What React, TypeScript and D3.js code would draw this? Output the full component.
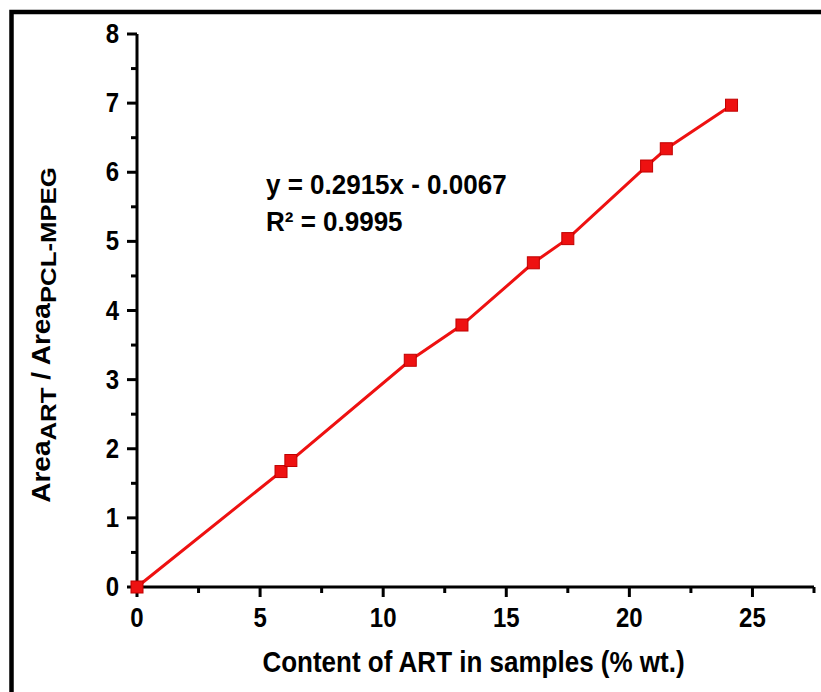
import React from "react";
import * as d3 from "d3";

const contentART: number[] = [0, 5.85, 6.25, 11.1, 13.2, 16.1, 17.5, 20.7, 21.5, 24.15];
const areaRatio: number[] = [0, 1.67, 1.83, 3.28, 3.79, 4.69, 5.04, 6.09, 6.34, 6.97];
const xMajorTicks: number[] = [0, 5, 10, 15, 20, 25];
const xMinorTicks: number[] = [2.5, 7.5, 12.5, 17.5, 22.5, 27.5];
const yMajorTicks: number[] = [0, 1, 2, 3, 4, 5, 6, 7, 8];
const yMinorTicks: number[] = [0.5, 1.5, 2.5, 3.5, 4.5, 5.5, 6.5, 7.5];
const equationLines: string[] = ["y = 0.2915x - 0.0067", "R² = 0.9995"];
const xTitle = "Content of ART in samples (% wt.)";

const W = 821;
const H = 692;
const FONT = "'Liberation Sans', Arial, sans-serif";
const RED = "#ee1111";
const VS = 1.12; // vertical stretch of glyphs

export default function App() {
  const x = d3.scaleLinear().domain([0, 27.5]).range([137, 814]);
  const y = d3.scaleLinear().domain([0, 8]).range([587, 34]);
  const pts = contentART.map((c, i) => [c, areaRatio[i]] as [number, number]);
  const line = d3
    .line<[number, number]>()
    .x((d) => x(d[0]))
    .y((d) => y(d[1]));

  return (
    <svg
      width={W}
      height={H}
      style={{ position: "absolute", left: 0, top: 0, background: "#fff" }}
      fontFamily={FONT}
    >
      <rect x={0} y={0} width={W} height={H} fill="#fff" />
      {/* frame */}
      <rect x={11.5} y={12} width={W + 20} height={H + 20} fill="none" stroke="#000" strokeWidth={4.5} />

      {/* axes */}
      <line x1={x(0)} x2={x(27.5)} y1={y(0)} y2={y(0)} stroke="#000" strokeWidth={3} />
      <line x1={x(0)} x2={x(0)} y1={y(0) + 1.5} y2={y(8)} stroke="#000" strokeWidth={3} />

      {xMajorTicks.map((t) => (
        <g key={"xm" + t}>
          <line x1={x(t)} x2={x(t)} y1={y(0)} y2={y(0) + 10} stroke="#000" strokeWidth={3} />
          <text
            transform={`translate(${x(t)},627) scale(1,${VS})`}
            textAnchor="middle"
            fontSize={24}
            fontWeight="bold"
          >
            {t}
          </text>
        </g>
      ))}
      {xMinorTicks.map((t) => (
        <line key={"xn" + t} x1={x(t)} x2={x(t)} y1={y(0)} y2={y(0) + 6} stroke="#000" strokeWidth={3} />
      ))}
      {yMajorTicks.map((t) => (
        <g key={"ym" + t}>
          <line x1={x(0) - 10} x2={x(0)} y1={y(t)} y2={y(t)} stroke="#000" strokeWidth={3} />
          <text
            transform={`translate(119,${y(t) + 9}) scale(1,${VS})`}
            textAnchor="end"
            fontSize={24}
            fontWeight="bold"
          >
            {t}
          </text>
        </g>
      ))}
      {yMinorTicks.map((t) => (
        <line key={"yn" + t} x1={x(0) - 6} x2={x(0)} y1={y(t)} y2={y(t)} stroke="#000" strokeWidth={3} />
      ))}

      {/* series */}
      <path d={line(pts) || ""} fill="none" stroke={RED} strokeWidth={3} />
      {pts.map((p, i) => (
        <rect
          key={"p" + i}
          x={x(p[0]) - 6}
          y={y(p[1]) - 6}
          width={12}
          height={12}
          fill={RED}
          stroke="#c00000"
          strokeWidth={1}
        />
      ))}

      {/* equation */}
      {equationLines.map((s, i) => (
        <text
          key={"eq" + i}
          transform={`translate(266,${194 + i * 36.5}) scale(1,1.04)`}
          fontSize={26}
          fontWeight="bold"
        >
          {s}
        </text>
      ))}

      {/* x title */}
      <text
        transform={`translate(473.5,672) scale(1,1.1)`}
        textAnchor="middle"
        fontSize={26}
        fontWeight="bold"
      >
        {xTitle}
      </text>

      {/* y title */}
      <text
        transform={`translate(50,335) scale(1,${VS}) rotate(-90)`}
        textAnchor="middle"
        fontSize={25}
        fontWeight="bold"
      >
        <tspan>Area</tspan>
        <tspan dy={6} fontSize={23}>ART</tspan>
        <tspan dy={-6}> / Area</tspan>
        <tspan dy={6} fontSize={23}>PCL-MPEG</tspan>
      </text>
    </svg>
  );
}
